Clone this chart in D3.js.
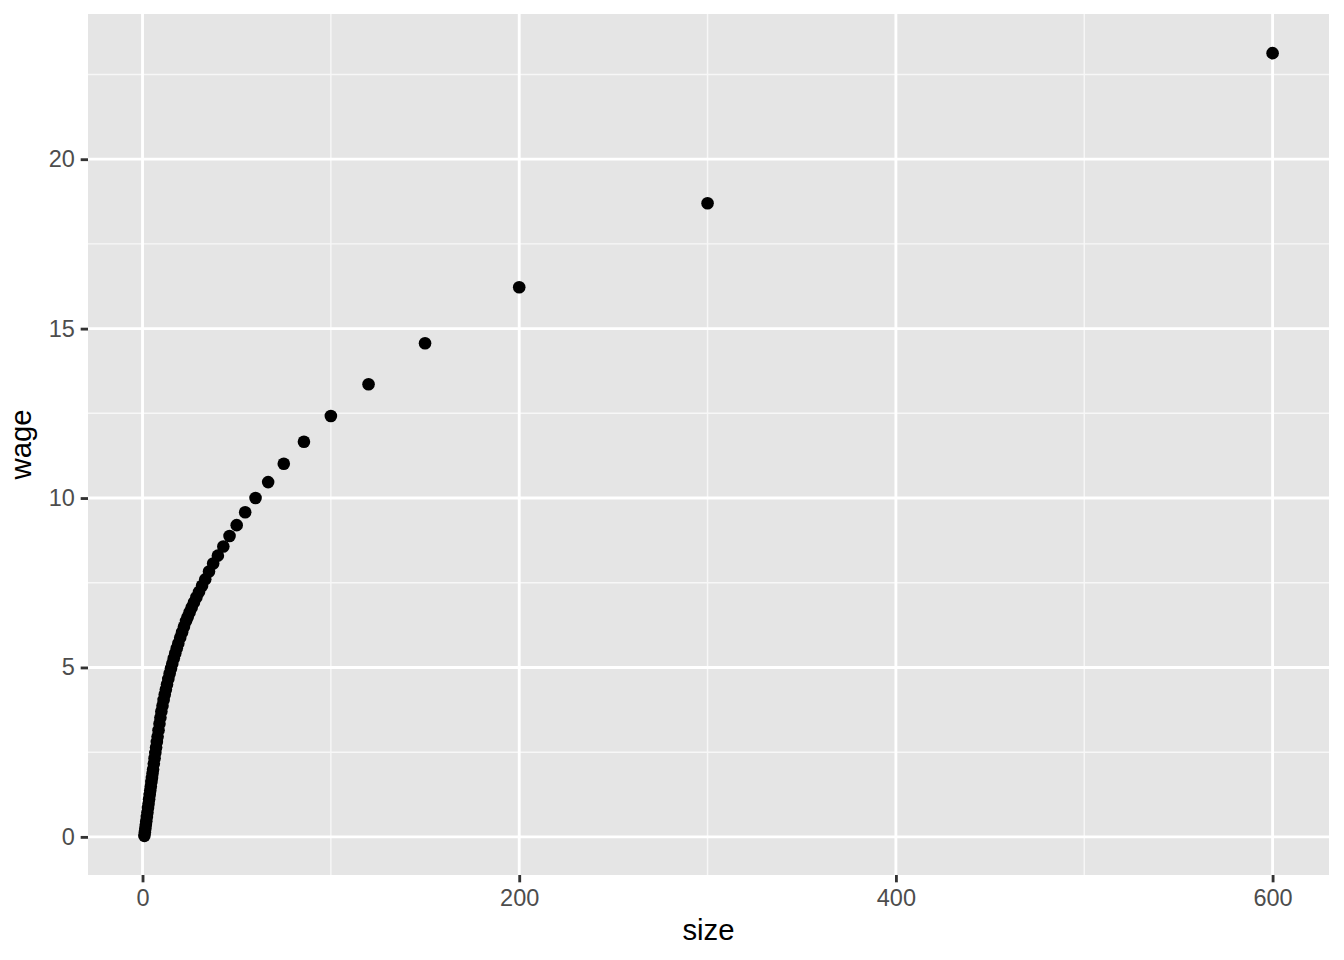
<!DOCTYPE html>
<html>
<head>
<meta charset="utf-8">
<script src="https://cdn.jsdelivr.net/npm/d3@7"></script>
<style>
  body { margin: 0; background: #fff; }
  svg text { font-family: "Liberation Sans", Arial, Helvetica, sans-serif; }
</style>
</head>
<body>
<script>
// values (dense part near 0 traced along the band)
const sizes = [
  1.0, 1.25, 1.5, 1.75, 2.0, 2.3, 2.6, 2.9, 3.2, 3.5, 3.8, 4.1, 4.4, 4.7, 5.0,
  5.3, 5.6, 6.0, 6.4, 6.8, 7.2, 7.6, 8.0, 8.5, 9.0, 9.5, 10.0, 10.6, 11.2, 11.8,
  12.4, 13.0, 13.7, 14.4, 15.1, 15.8, 16.6, 17.4, 18.2, 19.0, 20.0, 21.0, 22.0,
  23.1, 24.0, 25.0, 26.1, 27.3, 28.6, 30.0, 31.6, 33.3, 35.3, 37.5, 40.0, 42.9,
  46.2, 50.0, 54.5, 60.0, 66.7, 75.0, 85.7, 100, 120, 150, 200, 300, 600
];
const wages = [
  0.03, 0.14, 0.25, 0.36, 0.46, 0.59, 0.72, 0.85, 0.98, 1.11, 1.24, 1.37, 1.49, 1.62, 1.74,
  1.87, 1.99, 2.16, 2.32, 2.48, 2.64, 2.80, 2.96, 3.15, 3.34, 3.52, 3.70, 3.87, 4.04, 4.20,
  4.35, 4.50, 4.66, 4.82, 4.97, 5.11, 5.27, 5.42, 5.57, 5.71, 5.88, 6.04, 6.20,
  6.37, 6.49, 6.63, 6.77, 6.92, 7.07, 7.23, 7.41, 7.60, 7.83, 8.07, 8.30, 8.57,
  8.88, 9.20, 9.58, 10.00, 10.47, 11.01, 11.66, 12.42, 13.36, 14.57, 16.22, 18.70, 23.13
];
const xTicks = [0, 200, 400, 600];
const xMinor = [100, 300, 500];
const yTicks = [0, 5, 10, 15, 20];
const yMinor = [2.5, 7.5, 12.5, 17.5, 22.5];

const data = sizes.map((s, i) => ({ size: s, wage: wages[i] }));

const W = 1344, H = 960;
const panel = { left: 88, right: 1329, top: 14, bottom: 875 };

const svg = d3.select('body').append('svg')
  .attr('width', W)
  .attr('height', H);

// ggplot style 5% expansion
function expand(ext) {
  const d = (ext[1] - ext[0]) * 0.05;
  return [ext[0] - d, ext[1] + d];
}

const x = d3.scaleLinear()
  .domain(expand(d3.extent(sizes)))
  .range([panel.left, panel.right]);
const y = d3.scaleLinear()
  .domain(expand(d3.extent(wages)))
  .range([panel.bottom, panel.top]);

// panel background
svg.append('rect')
  .attr('x', panel.left)
  .attr('y', panel.top)
  .attr('width', panel.right - panel.left)
  .attr('height', panel.bottom - panel.top)
  .attr('fill', '#e5e5e5');

// grid lines
const grid = svg.append('g');
grid.selectAll('.xminor').data(xMinor).enter().append('line')
  .attr('x1', d => x(d)).attr('x2', d => x(d))
  .attr('y1', panel.top).attr('y2', panel.bottom)
  .attr('stroke', '#f7f7f7').attr('stroke-width', 1.42);
grid.selectAll('.yminor').data(yMinor).enter().append('line')
  .attr('x1', panel.left).attr('x2', panel.right)
  .attr('y1', d => y(d)).attr('y2', d => y(d))
  .attr('stroke', '#f7f7f7').attr('stroke-width', 1.42);
grid.selectAll('.xmajor').data(xTicks).enter().append('line')
  .attr('x1', d => x(d)).attr('x2', d => x(d))
  .attr('y1', panel.top).attr('y2', panel.bottom)
  .attr('stroke', '#fff').attr('stroke-width', 2.85);
grid.selectAll('.ymajor').data(yTicks).enter().append('line')
  .attr('x1', panel.left).attr('x2', panel.right)
  .attr('y1', d => y(d)).attr('y2', d => y(d))
  .attr('stroke', '#fff').attr('stroke-width', 2.85);

// points
svg.append('g')
  .selectAll('circle')
  .data(data)
  .enter().append('circle')
  .attr('cx', d => x(d.size))
  .attr('cy', d => y(d.wage))
  .attr('r', 6.3)
  .attr('fill', '#000');

// axes
const xAxis = svg.append('g')
  .attr('transform', `translate(0,${panel.bottom})`)
  .call(d3.axisBottom(x).tickValues(xTicks).tickSize(7.33).tickSizeOuter(0).tickPadding(7));
const yAxis = svg.append('g')
  .attr('transform', `translate(${panel.left},0)`)
  .call(d3.axisLeft(y).tickValues(yTicks).tickSize(7.33).tickSizeOuter(0).tickPadding(5.9));

[xAxis, yAxis].forEach(a => {
  a.select('.domain').remove();
  a.selectAll('.tick line').attr('stroke', '#333').attr('stroke-width', 2.85);
  a.selectAll('.tick text')
    .attr('fill', '#4d4d4d')
    .style('font-size', '23.5px')
    .style('font-family', '"Liberation Sans", Arial, sans-serif');
});

// axis titles
svg.append('text')
  .attr('x', (panel.left + panel.right) / 2)
  .attr('y', 940)
  .attr('text-anchor', 'middle')
  .style('font-size', '29.3px')
  .attr('fill', '#000')
  .text('size');

svg.append('text')
  .attr('transform', `translate(31,${(panel.top + panel.bottom) / 2}) rotate(-90)`)
  .attr('text-anchor', 'middle')
  .style('font-size', '29.3px')
  .attr('fill', '#000')
  .text('wage');
</script>
</body>
</html>
